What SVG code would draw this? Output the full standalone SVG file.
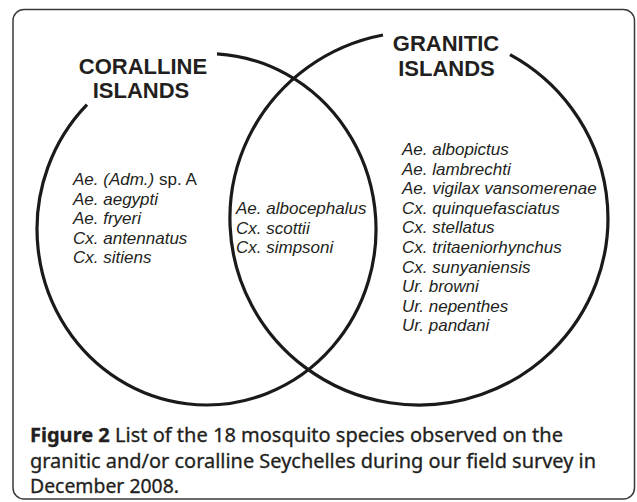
<svg xmlns="http://www.w3.org/2000/svg" width="637" height="502" viewBox="0 0 637 502">
<style>
.frame{fill:#fff;stroke:#3a3a3a;stroke-width:1.5}
.ring{fill:none;stroke:#1a1a1a;stroke-width:3.2}
.title{font-family:"Liberation Sans",Arial,sans-serif;font-weight:bold;font-size:22px;fill:#231f20;text-anchor:middle}
.sp{font-family:"Liberation Sans",Arial,sans-serif;font-style:italic;font-size:17px;fill:#231f20}
.up{font-style:normal}
.cap{font-family:"Noto Sans","Open Sans",sans-serif;font-size:19px;fill:#231f20;stroke:#231f20;stroke-width:0.3}
.capb{font-weight:bold}
</style>
<rect class="frame" x="13" y="9.5" width="621.5" height="489.5" rx="11" ry="11"/>
<g id="connectors">
<path id="coralline-circle" class="ring" d="M 217 53.8 A 169.5 175.75 0 1 1 87 104.6"/>
<path id="granitic-circle" class="ring" d="M 510 54.7 A 189 186.7 0 1 1 383 35"/>
</g>
<g id="coralline">
<text class="title" x="143" y="74">CORALLINE</text>
<text class="title" x="141" y="98">ISLANDS</text>
<text class="sp" x="73" y="185">Ae. (Adm.)<tspan class="up"> sp. A</tspan></text>
<text class="sp" x="73" y="204.5">Ae. aegypti</text>
<text class="sp" x="73" y="224">Ae. fryeri</text>
<text class="sp" x="73" y="243.5">Cx. antennatus</text>
<text class="sp" x="73" y="263">Cx. sitiens</text>
</g>
<g id="shared">
<text class="sp" x="236" y="214">Ae. albocephalus</text>
<text class="sp" x="236" y="233.5">Cx. scottii</text>
<text class="sp" x="236" y="253">Cx. simpsoni</text>
</g>
<g id="granitic">
<text class="title" x="446" y="51">GRANITIC</text>
<text class="title" x="446.5" y="76">ISLANDS</text>
<text class="sp" x="402" y="155">Ae. albopictus</text>
<text class="sp" x="402" y="174.6">Ae. lambrechti</text>
<text class="sp" x="402" y="194.2">Ae. vigilax vansomerenae</text>
<text class="sp" x="402" y="213.8">Cx. quinquefasciatus</text>
<text class="sp" x="402" y="233.4">Cx. stellatus</text>
<text class="sp" x="402" y="253">Cx. tritaeniorhynchus</text>
<text class="sp" x="402" y="272.6">Cx. sunyaniensis</text>
<text class="sp" x="402" y="292.2">Ur. browni</text>
<text class="sp" x="402" y="311.8">Ur. nepenthes</text>
<text class="sp" x="402" y="331.4">Ur. pandani</text>
</g>
<g id="caption">
<text class="cap" x="30" y="442" textLength="533" lengthAdjust="spacingAndGlyphs"><tspan class="capb">Figure 2</tspan> List of the 18 mosquito species observed on the</text>
<text class="cap" x="30" y="467.5" textLength="566" lengthAdjust="spacingAndGlyphs">granitic and/or coralline Seychelles during our field survey in</text>
<text class="cap" x="30" y="493" textLength="149" lengthAdjust="spacingAndGlyphs">December 2008.</text>
</g>
</svg>
